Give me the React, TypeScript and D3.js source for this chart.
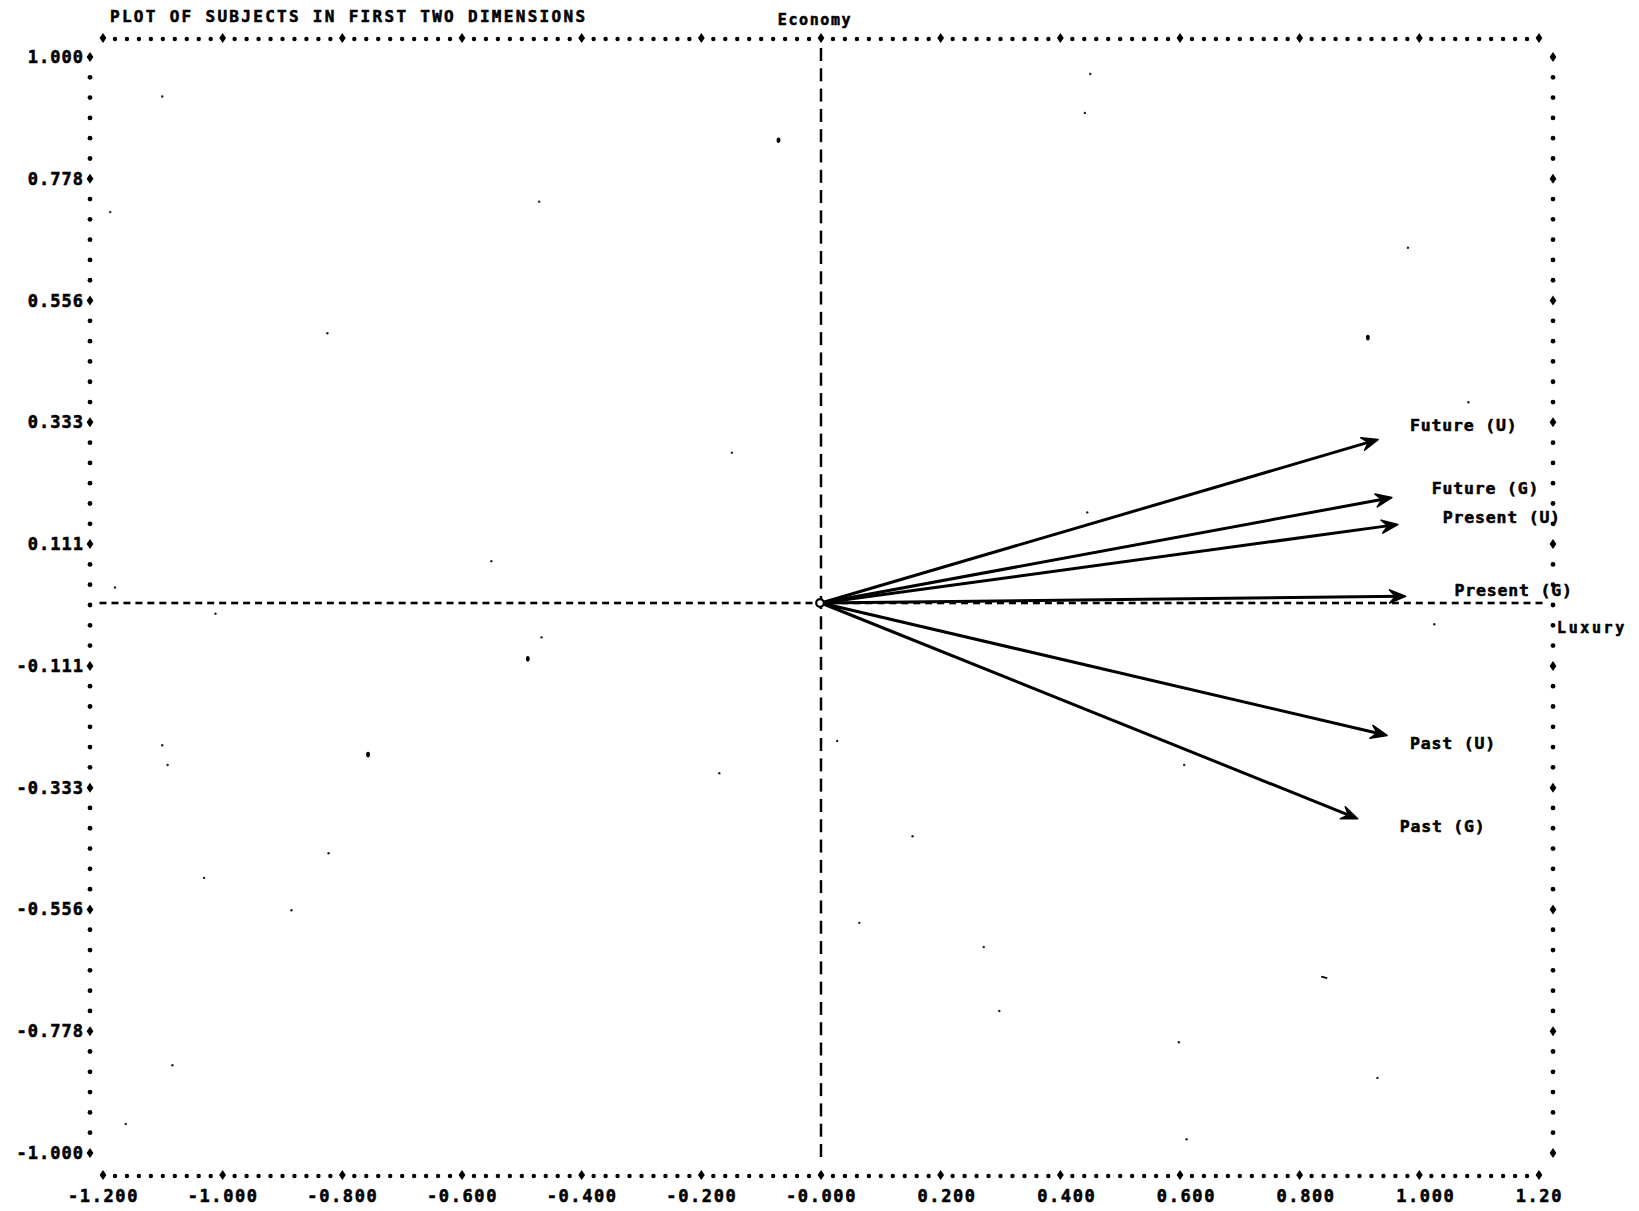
import React from "react";
import * as d3 from "d3";

// Axis ticks (line-printer style labels)
const xTickValues = [-1.2, -1.0, -0.8, -0.6, -0.4, -0.2, 0, 0.2, 0.4, 0.6, 0.8, 1.0, 1.2];
const xTickLabels = ["-1.200", "-1.000", "-0.800", "-0.600", "-0.400", "-0.200", "-0.000", "0.200", "0.400", "0.600", "0.800", "1.000", "1.20"];
const yTickValues = [1, 7 / 9, 5 / 9, 3 / 9, 1 / 9, -1 / 9, -3 / 9, -5 / 9, -7 / 9, -1];
const yTickLabels = ["1.000", "0.778", "0.556", "0.333", "0.111", "-0.111", "-0.333", "-0.556", "-0.778", "-1.000"];

// Attribute vectors
const vectorLabels = ["Future (U)", "Future (G)", "Present (U)", "Present (G)", "Past (U)", "Past (G)"];
const vectorX = [0.931, 0.954, 0.964, 0.977, 0.946, 0.897];
const vectorY = [0.302, 0.196, 0.147, 0.016, -0.238, -0.39];

// Subject coordinates on the first two dimensions
const subjectX = [-1.101, -1.188, -0.825, -0.471, -0.071, 0.45, 0.441, 0.981, 0.914, 1.082, -0.149, -0.551, -1.18, -1.012, -0.467, -0.49, 0.445, 1.025, -1.101, -1.092, -0.757, -0.17, 0.027, 0.607, 0.153, -0.823, -1.031, -0.885, 0.064, 0.272, 0.841, 0.298, 0.598, -1.084, 0.93, 0.611, -1.162];
const subjectY = [0.928, 0.717, 0.496, 0.736, 0.848, 0.969, 0.898, 0.652, 0.488, 0.37, 0.278, 0.08, 0.032, -0.016, -0.059, -0.098, 0.169, -0.035, -0.256, -0.292, -0.273, -0.307, -0.248, -0.292, -0.422, -0.453, -0.498, -0.557, -0.58, -0.624, -0.678, -0.741, -0.798, -0.84, -0.863, -0.975, -0.947];

const title = "PLOT OF SUBJECTS IN FIRST TWO DIMENSIONS";
const yAxisName = "Economy";
const xAxisName = "Luxury";

// Layout
const W = 1639;
const H = 1211;
const FRAME_TOP = 38;
const FRAME_BOTTOM = 1175;
const FRAME_LEFT = 90;
const FRAME_RIGHT = 1553;
const COLS = 120;
const LINES = 54;
const heavySubjects = new Set([4, 8, 15, 20]);
const dashSubjects = new Set([30]);
// label offsets relative to arrow tips, in px
const labelDx = [32, 40, 45, 49, 23, 42];
const labelDy = [-14, -9, -7, -6, 8, 8];

const FONT = "'DejaVu Sans Mono', 'Liberation Mono', monospace";
const INK = "#000";

const x = d3.scaleLinear().domain([-1.2, 1.2]).range([103, 1539]);
const y = d3.scaleLinear().domain([-1, 1]).range([1153, 57]);

const colVals = d3.range(COLS + 1).map((c) => -1.2 + (c * 2.4) / COLS);
const lineVals = d3.range(LINES + 1).map((l) => 1 - (l * 2) / LINES);

function Plus({ cx, cy }: { cx: number; cy: number }) {
  return (
    <path
      d={`M${cx},${cy - 5} L${cx + 3.4},${cy} L${cx},${cy + 5} L${cx - 3.4},${cy} Z`}
      fill={INK}
    />
  );
}

function arrowHead(x0: number, y0: number, x1: number, y1: number) {
  const a = Math.atan2(y1 - y0, x1 - x0);
  const len = 16;
  const half = 6.5;
  const inner = 10;
  const bx = x1 - len * Math.cos(a);
  const by = y1 - len * Math.sin(a);
  const px = -Math.sin(a);
  const py = Math.cos(a);
  const ix = x1 - inner * Math.cos(a);
  const iy = y1 - inner * Math.sin(a);
  return `M${x1},${y1} L${bx + px * half},${by + py * half} L${ix},${iy} L${bx - px * half},${by - py * half} Z`;
}

const textProps = {
  fill: INK,
  stroke: INK,
  strokeWidth: 0.55,
  dominantBaseline: "central" as const,
};

export default function App() {
  const ox = x(0);
  const oy = y(0);

  return (
    <svg
      width={W}
      height={H}
      style={{ position: "absolute", left: 0, top: 0, background: "#fff" }}
      fontFamily={FONT}
      fontWeight="bold"
    >
      <rect width={W} height={H} fill="#fff" />

      {/* title */}
      <text x={110} y={16} fontSize={16} letterSpacing={2.3} {...textProps}>
        {title}
      </text>
      <text x={ox - 6} y={20} fontSize={15} letterSpacing={1.6} textAnchor="middle" {...textProps}>
        {yAxisName}
      </text>

      {/* top and bottom frame rows */}
      {[FRAME_TOP, FRAME_BOTTOM].map((fy) => (
        <g key={fy}>
          {colVals.map((v, c) =>
            c % 10 === 0 ? (
              <Plus key={c} cx={x(v)} cy={fy} />
            ) : (
              <circle key={c} cx={x(v)} cy={fy + 1} r={2.2} fill={INK} />
            )
          )}
        </g>
      ))}

      {/* left and right frame columns */}
      {[FRAME_LEFT, FRAME_RIGHT].map((fx) => (
        <g key={fx}>
          {lineVals.map((v, l) =>
            l % 6 === 0 ? (
              <Plus key={l} cx={fx} cy={y(v)} />
            ) : (
              <circle key={l} cx={fx} cy={y(v)} r={2.4} fill={INK} />
            )
          )}
        </g>
      ))}

      {/* y tick labels */}
      {yTickValues.map((v, i) => (
        <text key={i} x={84} y={y(v)} fontSize={17} letterSpacing={1.0} textAnchor="end" {...textProps}>
          {yTickLabels[i]}
        </text>
      ))}

      {/* x tick labels */}
      {xTickValues.map((v, i) => (
        <text
          key={i}
          x={x(v) + (i === xTickValues.length - 1 ? 24 : 36)}
          y={1196}
          fontSize={17}
          letterSpacing={1.6}
          textAnchor="end"
          {...textProps}
        >
          {xTickLabels[i]}
        </text>
      ))}

      {/* vertical axis through the origin */}
      {lineVals.map((v, l) => (
        <line key={l} x1={ox} x2={ox} y1={y(v) - 9} y2={y(v) + 4} stroke={INK} strokeWidth={2.5} />
      ))}

      {/* horizontal axis through the origin */}
      {colVals.map((v, c) => (
        <line key={c} x1={x(v) - 3.5} x2={x(v) + 3.5} y1={oy - 2} y2={oy - 2} stroke={INK} strokeWidth={2.6} />
      ))}

      <text x={1557} y={oy + 23} fontSize={15} letterSpacing={2.6} {...textProps}>
        {xAxisName}
      </text>

      {/* subjects */}
      {subjectX.map((sx, i) =>
        dashSubjects.has(i) ? (
          <line key={i} x1={x(sx) - 3} x2={x(sx) + 3} y1={y(subjectY[i])} y2={y(subjectY[i]) + 1.5} stroke={INK} strokeWidth={1.8} />
        ) : heavySubjects.has(i) ? (
          <ellipse key={i} cx={x(sx)} cy={y(subjectY[i])} rx={1.9} ry={2.8} fill={INK} />
        ) : (
          <circle key={i} cx={x(sx)} cy={y(subjectY[i])} r={1.2} fill="#222" />
        )
      )}

      {/* attribute vectors */}
      {vectorX.map((vx, i) => {
        const tx = x(vx);
        const ty = y(vectorY[i]);
        const a = Math.atan2(ty - oy, tx - ox);
        return (
          <g key={i}>
            <line x1={ox} y1={oy - 2} x2={tx - 5 * Math.cos(a)} y2={ty - 5 * Math.sin(a)} stroke={INK} strokeWidth={3} />
            <path d={arrowHead(ox, oy - 2, tx, ty)} fill={INK} stroke={INK} strokeWidth={1.6} strokeLinejoin="round" />
            <text x={tx + labelDx[i]} y={ty + labelDy[i]} fontSize={16.5} letterSpacing={0.8} {...textProps}>
              {vectorLabels[i]}
            </text>
          </g>
        );
      })}

      {/* origin marker */}
      <circle cx={ox - 1} cy={oy - 2} r={3.8} fill="#fff" stroke={INK} strokeWidth={2.2} />
    </svg>
  );
}
